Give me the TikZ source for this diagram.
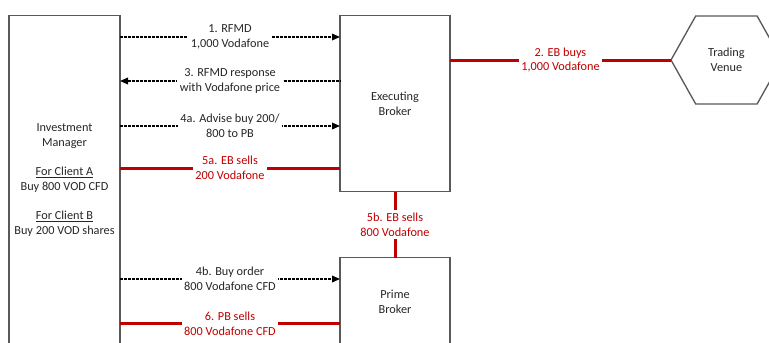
\documentclass[tikz,border=0pt]{standalone}
\usepackage{fontspec}
\setmainfont{Carlito}
\usepackage{tikz}
\usetikzlibrary{arrows.meta, positioning, calc}
\definecolor{boxline}{RGB}{89, 89, 89}
\definecolor{tradered}{RGB}{192, 0, 0}
\definecolor{labeltext}{RGB}{38, 38, 38}
\tikzset{
  font=\fontsize{9.2pt}{11pt}\selectfont,
  partyblock/.style={
    rectangle, draw=boxline, line width=1pt, text=labeltext,
    align=center, inner sep=2pt, outer sep=0pt
  },
  msgflow/.style={
    draw=black, line width=1pt, dash pattern=on 2.25pt off 0.75pt
  },
  msgto/.style={msgflow, -{Triangle[length=6pt, width=5pt]}},
  msgback/.style={msgflow, {Triangle[length=6pt, width=5pt]}-},
  tradeline/.style={draw=tradered, line width=2.25pt},
  msglabel/.style={fill=white, text=labeltext, align=center, inner sep=2pt},
  tradelabel/.style={fill=white, text=tradered, align=center, inner sep=2pt}
}

\begin{document}
\begin{tikzpicture}[x=0.75pt, y=-0.75pt]
  \clip (0,0) rectangle (769,343);

  % Message rows (one height per flow)
  \coordinate (rfmd) at (0,37);
  \coordinate (quote) at (0,81);
  \coordinate (advise) at (0,126);
  \coordinate (ebsell) at (0,168);
  \coordinate (order) at (0,279);
  \coordinate (pbsell) at (0,323.7);

  % Parties
  \node[partyblock, anchor=north west, minimum width=83.25pt, minimum height=246.2pt] (im) at (9,15.7) {
    Investment\\Manager\\[11pt]
    \underline{For Client A}\\Buy 800 VOD CFD\\[11pt]
    \underline{For Client B}\\Buy 200 VOD shares
  };

  \node[partyblock, right=165pt of im.north east, anchor=north west, minimum width=82.5pt, minimum height=132pt] (eb) {
    Executing\\Broker
  };

  \node[partyblock, below=49.5pt of eb, minimum width=82.5pt, minimum height=66.5pt] (pb) {
    Prime\\Broker
  };

  % Trading venue (hexagon)
  \node[text=labeltext, align=center] (tv) at (726.4,60) {Trading\\Venue};
  \coordinate (tvwest) at ($(tv)+(-55.4,0)$);
  \draw[draw=boxline, line width=1pt] (tvwest) -- ++(24.7,-44) -- ++(61.4,0) -- ++(24.7,44)
    -- ++(-24.7,44) -- ++(-61.4,0) -- cycle;

  % Flows between IM and EB
  \draw[msgto] (im.east |- rfmd) -- node[msglabel] {1. RFMD\\1,000 Vodafone} (eb.west |- rfmd);
  \draw[tradeline] (eb.east |- tvwest) -- node[tradelabel] {2. EB buys\\1,000 Vodafone} (tvwest);
  \draw[msgback] (im.east |- quote) -- node[msglabel] {3. RFMD response\\with Vodafone price} (eb.west |- quote);
  \draw[msgto] (im.east |- advise) -- node[msglabel] {4a. Advise buy 200/\\800 to PB} (eb.west |- advise);
  \draw[tradeline] (im.east |- ebsell) -- node[tradelabel] {5a. EB sells\\200 Vodafone} (eb.west |- ebsell);

  % EB to PB, then PB to IM
  \draw[tradeline] (eb.south) -- node[tradelabel] {5b. EB sells\\800 Vodafone} (pb.north);
  \draw[msgto] (im.east |- order) -- node[msglabel] {4b. Buy order\\800 Vodafone CFD} (pb.west |- order);
  \draw[tradeline] (im.east |- pbsell) -- node[tradelabel] {6. PB sells\\800 Vodafone CFD} (pb.west |- pbsell);
\end{tikzpicture}
\end{document}
